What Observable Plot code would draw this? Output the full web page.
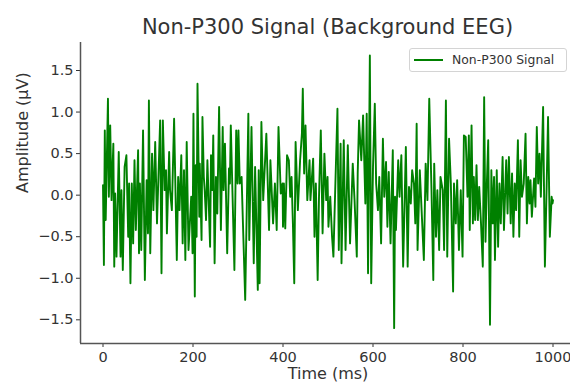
<!DOCTYPE html>
<html>
<head>
<meta charset="utf-8">
<script src="https://cdn.jsdelivr.net/npm/d3@7"></script>
<script src="https://cdn.jsdelivr.net/npm/@observablehq/plot@0.6"></script>
<style>
html, body { margin: 0; padding: 0; background: #fff; overflow: hidden; }
#wrap { position: relative; width: 570px; height: 383px; overflow: hidden; font-family: "DejaVu Sans", sans-serif; color: #333; }
#title { height: 40px; box-sizing: border-box; width: 575px; padding-left: 80px; padding-top: 15px; text-align: center; font-size: 21px; line-height: 24px; white-space: nowrap; }
#legend { position: absolute; left: 409px; top: 48px; width: 158px; height: 24px; box-sizing: border-box; border: 1px solid #d4d4d4; border-radius: 3px; background: rgba(255,255,255,0.85); font-size: 12.4px; }
#legend .sw { position: absolute; left: 4px; top: 10px; width: 29px; height: 2px; background: green; }
#legend .lb { position: absolute; left: 42px; top: 0; line-height: 22px; white-space: nowrap; }
#chart svg { display: block; max-width: none !important; }
</style>
</head>
<body>
<div id="wrap">
  <div id="title"></div>
  <div id="chart"></div>
  <div id="legend"><span class="sw"></span><span class="lb"></span></div>
</div>
<script>
const titleText = "Non-P300 Signal (Background EEG)";
const seriesName = "Non-P300 Signal";
const xLabel = "Time (ms)";
const yLabel = "Amplitude (μV)";
const xTicks = [0, 200, 400, 600, 800, 1000];
const yTicks = [-1.5, -1.0, -0.5, 0.0, 0.5, 1.0, 1.5];
const xDomain = [-50, 1050];
const yDomain = [-1.785, 1.837];

const timeMs = [
  0,2,4,6,11,13,16,19,23,25,27,30,35,39,41,44,48,52,56,58,61,64,67,70,73,78,80,82,85,89,93,97,100,102,105,109,112,116,120,127,130,133,137,140,142,147,149,153,158,164,167,170,174,177,180,183,186,190,196,
  197,199,201,204,206,208,210,214,215,219,221,224,226,229,232,238,240,243,245,248,251,254,258,262,266,268,271,276,280,282,284,292,296,299,301,304,308,311,316,323,325,330,335,338,344,346,348,352,356,363,369,372,378,382,386,390,395,399,
  400,402,405,409,413,416,419,422,425,428,433,438,442,444,447,450,454,459,461,467,470,473,477,480,484,488,492,496,499,501,505,509,512,516,521,524,528,530,535,539,544,549,555,559,564,566,569,574,578,583,586,589,593,596,600,604,607,
  611,614,618,622,625,629,632,635,639,644,647,649,651,656,659,663,667,673,677,680,684,687,691,694,697,699,704,708,713,717,721,725,730,734,736,740,743,747,750,755,758,762,765,769,773,778,780,784,787,791,795,799,802,806,810,
  813,815,819,822,824,827,830,833,836,840,844,847,850,853,856,860,863,866,869,871,875,878,881,884,888,891,896,899,902,906,909,912,915,918,922,925,928,931,935,939,942,945,948,950,953,958,961,964,967,970,973,978,982,986,989,993,997,999,1000
];

const amplitude = [
  0.12,-0.84,0.78,-0.30,1.16,-0.02,0.84,-0.06,0.62,-0.86,0.02,-0.74,0.52,-0.74,0.06,-0.90,0.34,0.48,-0.50,0.14,-1.06,0.14,-0.58,0.42,-0.42,0.54,-0.70,0.14,-0.66,0.78,-1.02,0.18,-0.46,1.14,-0.70,0.50,-0.18,0.64,-0.34,0.90,-0.94,0.90,0.06,0.30,-0.46,0.52,0.06,-0.18,0.92,-0.78,0.22,-0.18,0.48,-0.58,0.30,-0.78,0.64,-0.66,-0.02,
  -0.14,-0.70,0.98,-1.22,0.36,-0.50,1.34,-0.26,0.38,-0.54,0.94,0.22,0.06,-0.30,0.42,-0.62,0.48,0.06,0.72,-0.82,0.22,-0.22,1.06,-0.42,0.82,0.06,0.62,-0.70,0.32,0.14,0.84,-0.90,0.78,0.14,0.78,0.14,0.22,-0.34,-1.26,0.98,-0.54,0.82,-0.82,0.34,-1.14,0.30,-1.06,0.88,-0.06,0.74,-0.42,0.42,-0.34,0.14,-0.42,0.82,0.02,0.14,
  -0.38,0.14,-0.40,0.48,0.42,-0.02,0.22,-0.34,-1.06,0.64,-0.18,0.42,0.74,1.28,0.26,0.84,-0.06,0.42,-0.06,0.44,-0.50,0.14,-1.02,-0.02,0.78,-0.46,0.50,-0.06,0.22,-0.38,-0.02,-0.50,-0.74,0.06,1.04,-0.66,0.62,-0.82,0.66,-0.66,0.60,-0.58,0.38,-0.06,-0.74,0.26,0.90,0.42,0.96,-0.10,0.98,-0.94,1.68,-1.06,0.34,1.10,0.14,
  -0.18,0.22,-0.58,0.68,-0.02,0.40,-0.38,0.28,-0.58,0.54,-1.60,-0.02,-0.42,0.42,-0.02,0.48,-0.86,0.58,-0.86,0.10,-0.10,0.30,0.14,-0.34,0.86,-0.66,0.30,-0.18,-0.78,0.38,-0.06,1.16,0.06,-1.02,0.38,-0.50,0.06,-0.66,0.22,0.06,-0.66,1.14,-0.74,0.68,0.14,-1.16,0.14,-0.34,0.18,-0.66,0.06,-0.74,0.72,0.70,-0.02,
  0.72,-0.42,0.84,-0.34,0.22,-0.30,0.36,-0.30,0.10,-0.34,-0.86,1.18,-0.56,0.14,0.66,-1.56,0.30,-0.34,0.22,-0.78,0.30,-0.62,0.14,-0.34,0.46,-0.42,0.42,-0.22,0.46,-0.34,0.26,-0.50,0.14,-0.18,0.66,-0.50,0.42,-0.02,0.14,0.74,-0.34,0.22,-0.10,0.18,-0.26,0.20,-0.14,0.82,0.14,0.50,-0.02,1.06,-0.86,0.14,0.94,-0.50,-0.02,-0.10,-0.06
];

const data = timeMs.map((t, i) => ({t, v: amplitude[i]}));

document.getElementById("title").textContent = titleText;
document.querySelector("#legend .lb").textContent = seriesName;

const chart = Plot.plot({
  width: 575,
  height: 343,
  marginLeft: 80,
  marginRight: 0,
  marginTop: 2,
  marginBottom: 40,
  style: {fontFamily: "DejaVu Sans, sans-serif", fontSize: "14.5px", color: "#333", background: "white", overflow: "visible", maxWidth: "none"},
  x: {domain: xDomain, ticks: xTicks, tickSize: 4, tickPadding: 4, tickFormat: d3.format("d"), label: null},
  y: {domain: yDomain, ticks: yTicks, tickSize: 4, tickPadding: 3, tickFormat: d3.format(".1f"), label: null},
  marks: [
    Plot.ruleX([xDomain[0]], {stroke: "#555", strokeWidth: 1.5}),
    Plot.ruleY([yDomain[0]], {stroke: "#555", strokeWidth: 1.5}),
    Plot.line(data, {x: "t", y: "v", stroke: "green", strokeWidth: 1.9}),
    Plot.text([xLabel], {frameAnchor: "bottom", dy: 35, fontSize: 16}),
    Plot.text([yLabel], {frameAnchor: "left", rotate: -90, dx: -58, fontSize: 16})
  ]
});
document.getElementById("chart").appendChild(chart);
</script>
</body>
</html>
